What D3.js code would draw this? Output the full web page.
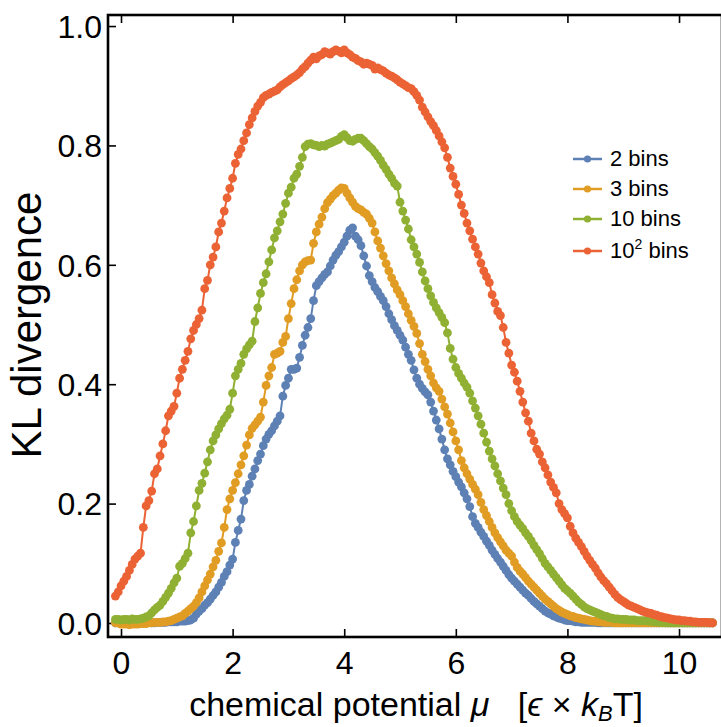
<!DOCTYPE html>
<html>
<head>
<meta charset="utf-8">
<script src="https://cdn.jsdelivr.net/npm/d3@7"></script>
<style>
  body { margin: 0; background: #fff; }
  text { font-family: "Liberation Sans", Arial, sans-serif; }
</style>
</head>
<body>
<script>
// chemical potential grid: -0.1 .. 10.6, step 0.05
var muStart = -0.1, muStep = 0.05;

// KL divergence, one value per grid point (rows = one unit of mu)
var kl2 = [0, 0,
  0,0,0,0,0,0.001,0,0.001,0.001,0.002,0.001,0,0,0.001,0.001,0.001,0.001,0.002,0.002,0.002,
  0.002,0.003,0.003,0.003,0.004,0.005,0.008,0.015,0.02,0.024,0.03,0.034,0.04,0.046,0.052,0.06,0.068,0.078,0.086,0.097,
  0.107,0.135,0.155,0.174,0.205,0.222,0.232,0.246,0.258,0.272,0.283,0.297,0.308,0.316,0.322,0.33,0.338,0.347,0.38,0.398,
  0.41,0.425,0.425,0.427,0.445,0.465,0.482,0.495,0.51,0.54,0.565,0.572,0.578,0.584,0.588,0.598,0.608,0.616,0.622,0.63,
  0.638,0.648,0.658,0.662,0.648,0.642,0.632,0.615,0.598,0.582,0.572,0.562,0.555,0.547,0.54,0.53,0.518,0.508,0.498,0.49,
  0.482,0.474,0.462,0.45,0.44,0.424,0.41,0.4,0.393,0.387,0.382,0.37,0.355,0.34,0.325,0.308,0.29,0.275,0.265,0.254,
  0.245,0.236,0.228,0.218,0.208,0.195,0.178,0.167,0.16,0.152,0.145,0.137,0.13,0.122,0.115,0.108,0.102,0.095,0.088,0.081,
  0.075,0.07,0.065,0.06,0.055,0.05,0.046,0.041,0.036,0.032,0.028,0.024,0.02,0.017,0.015,0.012,0.01,0.008,0.007,0.005,
  0.004,0.004,0.003,0.002,0.002,0.001,0.001,0.001,0.001,0.001,0.001,0,0,0,0,0,0,0,0,0,
  0,0,0,0,0,0,0,0,0,0,0,0,0,0,0,0,0,0,0,0,
  0,0,0,0,0,0,0,0,0,0,0,0,0];
var kl3 = [0, 0,
  -0.002,-0.002,-0.002,-0.003,-0.002,-0.002,-0.002,-0.001,-0.001,-0.001,0,0,0.001,0.001,0.001,0.002,0.002,0.003,0.004,0.006,
  0.008,0.01,0.012,0.016,0.02,0.024,0.028,0.034,0.042,0.052,0.062,0.072,0.082,0.094,0.105,0.12,0.134,0.16,0.19,0.208,
  0.222,0.235,0.25,0.265,0.28,0.298,0.315,0.326,0.332,0.338,0.345,0.37,0.398,0.414,0.428,0.45,0.452,0.455,0.47,0.48,
  0.51,0.535,0.56,0.575,0.59,0.6,0.605,0.607,0.608,0.636,0.655,0.668,0.68,0.694,0.704,0.71,0.716,0.72,0.725,0.729,
  0.728,0.72,0.712,0.705,0.698,0.694,0.692,0.688,0.685,0.678,0.67,0.655,0.64,0.628,0.615,0.602,0.59,0.578,0.568,0.558,
  0.55,0.54,0.53,0.518,0.507,0.497,0.485,0.468,0.45,0.438,0.425,0.414,0.402,0.394,0.388,0.375,0.362,0.35,0.335,0.32,
  0.305,0.29,0.272,0.26,0.25,0.241,0.232,0.224,0.215,0.202,0.19,0.18,0.17,0.16,0.151,0.143,0.136,0.129,0.122,0.117,
  0.112,0.102,0.093,0.087,0.082,0.076,0.07,0.065,0.06,0.055,0.05,0.045,0.04,0.036,0.032,0.028,0.024,0.021,0.018,0.016,
  0.014,0.012,0.011,0.009,0.008,0.007,0.006,0.005,0.004,0.003,0.003,0.002,0.002,0.001,0.001,0.001,0.001,0,0,0,
  0,0,0,0,0,0,0,0,0,0,0,0,0,0,0,0,0,0,0,0,
  0,0,0,0,0,0,0,0,0,0,0,0,0];
var kl10 = [0.006, 0.006,
  0.005,0.006,0.006,0.005,0.007,0.006,0.006,0.007,0.008,0.01,0.012,0.017,0.022,0.026,0.03,0.036,0.043,0.05,0.058,0.067,
  0.075,0.095,0.1,0.108,0.117,0.151,0.17,0.196,0.222,0.234,0.251,0.27,0.29,0.305,0.315,0.325,0.334,0.342,0.348,0.358,
  0.385,0.414,0.425,0.435,0.45,0.459,0.466,0.472,0.505,0.528,0.552,0.57,0.585,0.605,0.625,0.645,0.657,0.672,0.685,0.703,
  0.72,0.73,0.745,0.752,0.765,0.78,0.798,0.802,0.803,0.801,0.8,0.798,0.8,0.799,0.802,0.804,0.806,0.808,0.81,0.815,
  0.818,0.813,0.808,0.807,0.81,0.812,0.812,0.808,0.803,0.798,0.794,0.788,0.782,0.775,0.767,0.76,0.752,0.745,0.737,0.732,
  0.705,0.69,0.675,0.66,0.642,0.63,0.618,0.604,0.588,0.573,0.56,0.548,0.537,0.528,0.52,0.512,0.503,0.486,0.46,0.442,
  0.428,0.418,0.41,0.402,0.395,0.385,0.372,0.36,0.347,0.333,0.318,0.303,0.288,0.275,0.263,0.25,0.238,0.226,0.215,0.2,
  0.188,0.178,0.17,0.164,0.158,0.151,0.145,0.138,0.13,0.123,0.116,0.108,0.1,0.094,0.088,0.082,0.076,0.07,0.064,0.058,
  0.054,0.05,0.045,0.04,0.035,0.031,0.027,0.024,0.022,0.02,0.018,0.016,0.014,0.012,0.011,0.009,0.008,0.007,0.007,0.006,
  0.006,0.006,0.005,0.005,0.005,0.004,0.004,0.004,0.004,0.003,0.003,0.002,0.002,0.001,0.001,0.001,0,0,0,0,
  0,0,0,0,0,0,0,0,0,0,0,0,0];
var kl100 = [0.045, 0.052,
  0.062,0.07,0.078,0.088,0.098,0.107,0.112,0.117,0.16,0.196,0.205,0.221,0.25,0.258,0.28,0.3,0.322,0.347,0.355,0.363,
  0.385,0.41,0.425,0.44,0.455,0.476,0.49,0.5,0.51,0.524,0.56,0.574,0.6,0.613,0.63,0.655,0.67,0.69,0.712,0.728,
  0.745,0.77,0.785,0.794,0.808,0.821,0.835,0.846,0.857,0.866,0.872,0.88,0.884,0.886,0.889,0.891,0.893,0.898,0.902,0.905,
  0.908,0.912,0.915,0.918,0.922,0.928,0.932,0.938,0.943,0.948,0.945,0.95,0.952,0.957,0.955,0.953,0.957,0.96,0.958,0.955,
  0.96,0.955,0.952,0.948,0.946,0.942,0.94,0.936,0.938,0.936,0.934,0.928,0.93,0.927,0.925,0.921,0.918,0.916,0.913,0.91,
  0.906,0.903,0.9,0.897,0.895,0.89,0.884,0.876,0.864,0.856,0.848,0.84,0.833,0.825,0.816,0.806,0.796,0.78,0.762,0.748,
  0.735,0.718,0.7,0.686,0.67,0.657,0.643,0.63,0.618,0.603,0.59,0.58,0.57,0.55,0.536,0.522,0.515,0.495,0.47,0.452,
  0.432,0.42,0.405,0.388,0.37,0.352,0.338,0.318,0.305,0.291,0.283,0.27,0.26,0.248,0.236,0.227,0.218,0.2,0.19,0.183,
  0.176,0.162,0.151,0.142,0.135,0.128,0.12,0.112,0.105,0.098,0.092,0.084,0.077,0.071,0.066,0.06,0.054,0.048,0.043,0.039,
  0.036,0.033,0.03,0.028,0.026,0.024,0.022,0.02,0.018,0.017,0.016,0.014,0.013,0.011,0.01,0.009,0.008,0.007,0.006,0.005,
  0.005,0.004,0.004,0.003,0.003,0.002,0.002,0.001,0.001,0.001,0.001,0,0];

var names = ["2 bins", "3 bins", "10 bins", "10^2 bins"];
var colors = ["#5e81b5", "#e19c24", "#8fb032", "#eb6235"];
var xTicks = [0, 2, 4, 6, 8, 10];
var yTicks = [0, 0.2, 0.4, 0.6, 0.8, 1.0];

var series = [kl2, kl3, kl10, kl100].map(function (vals, i) {
  return {
    name: names[i],
    color: colors[i],
    pts: vals.map(function (v, j) { return { mu: muStart + j * muStep, kl: v }; })
  };
});

var W = 721, H = 727;
var L = 108, R = 722, T = 15, B = 637;

var svg = d3.select("body").append("svg")
    .attr("width", W)
    .attr("height", H);

var x = d3.scaleLinear().domain([-0.233, 10.77]).range([L, R]);
var y = d3.scaleLinear().domain([-0.0235, 1.0185]).range([B, T]);

// minor + major ticks, pointing inwards
function addAxis(axisFn, scale, transform, major, minor, fmt) {
  var g = svg.append("g").attr("transform", transform);
  g.call(axisFn(scale).tickValues(minor).tickSize(-4).tickFormat(""));
  g.call(axisFn(scale).tickValues(major).tickSize(-8).tickFormat(fmt || ""));
  g.selectAll(".domain").remove();
  g.selectAll(".tick line").attr("stroke", "#000").attr("stroke-width", 1.6);
  return g;
}
var xMinor = d3.range(0, 10.6, 0.5);
var yMinor = d3.range(0, 1.01, 0.05);

var gx = addAxis(d3.axisBottom, x, "translate(0," + B + ")", xTicks, xMinor, d3.format("d"));
addAxis(d3.axisTop, x, "translate(0," + T + ")", xTicks, xMinor);
var gy = addAxis(d3.axisLeft, y, "translate(" + L + ",0)", yTicks, yMinor, d3.format(".1f"));

gx.selectAll(".tick text").attr("font-size", 32).attr("fill", "#000").attr("y", 0).attr("dy", 37)
  .style("font-family", "'Liberation Sans', Arial, sans-serif");
gy.selectAll(".tick text").attr("font-size", 32).attr("fill", "#000").attr("x", -6).attr("dy", "0.35em")
  .style("font-family", "'Liberation Sans', Arial, sans-serif");

svg.append("rect")
    .attr("x", L).attr("y", T)
    .attr("width", R - L).attr("height", B - T)
    .attr("fill", "none")
    .attr("stroke", "#000")
    .attr("stroke-width", 2.6);

var line = d3.line()
    .x(function (d) { return x(d.mu); })
    .y(function (d) { return y(d.kl); });

series.forEach(function (s) {
  svg.append("path")
      .datum(s.pts)
      .attr("d", line)
      .attr("fill", "none")
      .attr("stroke", s.color)
      .attr("stroke-width", 2);
  svg.append("g").selectAll("circle")
      .data(s.pts)
      .enter()
      .append("circle")
      .attr("cx", function (d) { return x(d.mu); })
      .attr("cy", function (d) { return y(d.kl); })
      .attr("r", 4.4)
      .attr("fill", s.color);
});

// legend
var legend = svg.append("g").attr("transform", "translate(573,159)");
series.forEach(function (s, i) {
  var row = legend.append("g").attr("transform", "translate(0," + (i * 30 + (i == 3 ? 2 : 0)) + ")");
  row.append("line").attr("x1", 0).attr("x2", 29).attr("stroke", s.color).attr("stroke-width", 2.5);
  row.append("circle").attr("cx", 14.5).attr("r", 3.6).attr("fill", s.color);
  var t = row.append("text").attr("x", 37).attr("y", 7).attr("font-size", 22);
  if (s.name == "10^2 bins") {
    t.append("tspan").text("10");
    t.append("tspan").attr("font-size", 14).attr("dy", -9).text("2");
    t.append("tspan").attr("dy", 9).text(" bins");
  } else {
    t.text(s.name);
  }
});

// axis titles
svg.append("text")
    .attr("transform", "translate(41,325) rotate(-90)")
    .attr("text-anchor", "middle")
    .attr("font-size", 42)
    .text("KL divergence");

var xl = svg.append("text")
    .attr("x", 416).attr("y", 716)
    .attr("text-anchor", "middle")
    .attr("font-size", 34)
    .attr("xml:space", "preserve");
xl.append("tspan").text("chemical potential ");
xl.append("tspan").attr("font-style", "italic").text("\u03bc");
xl.append("tspan").text("   [");
xl.append("tspan").attr("font-style", "italic").text("\u03f5");
xl.append("tspan").text(" \u00d7 ");
xl.append("tspan").attr("font-style", "italic").text("k");
xl.append("tspan").attr("font-style", "italic").attr("font-size", 22).attr("dy", 5).text("B");
xl.append("tspan").attr("dy", -5).text("T]");
</script>
</body>
</html>
